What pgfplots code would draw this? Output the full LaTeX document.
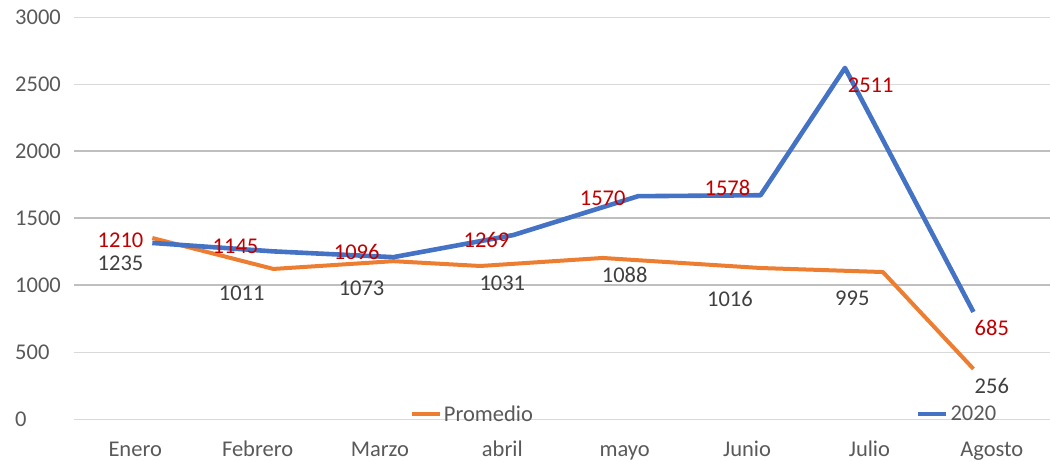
\documentclass[border=0pt]{standalone}
\usepackage{pgfplots}
\pgfplotsset{compat=1.18}
\usepackage{pgfplotstable}
\usepackage{fontspec}
\setmainfont{Carlito}
\definecolor{cblue}{HTML}{4472C4}
\definecolor{corange}{HTML}{ED7D31}
\definecolor{cred}{HTML}{C00000}
\definecolor{cdark}{HTML}{404040}
\definecolor{ctick}{HTML}{595959}
\definecolor{gridlight}{HTML}{D9D9D9}
\definecolor{griddark}{HTML}{BFBFBF}

\pgfplotstableread{
x y
0.14 1316
1.13 1253
2.11 1210
3.09 1375
4.11 1665
5.11 1672
5.80 2622
6.85 801
}\blueline
\pgfplotstableread{
x y
0.14 1353
1.13 1122
2.11 1180
2.82 1144
3.82 1204
5.11 1129
6.11 1099
6.85 376
}\orangeline
\pgfplotstableread{
x y label
-0.12 1338 1210
0.82 1293 1145
1.81 1249 1096
2.87 1338 1269
3.82 1652 1570
4.84 1726 1578
6.01 2495 2511
7.00 681 685
}\redlabels
\pgfplotstableread{
x y label
-0.12 1166 1235
0.87 943 1011
1.85 980 1073
3.00 1017 1031
4.00 1077 1088
4.86 898 1016
5.86 905 995
7.00 249 256
}\graylabels

\begin{document}
\begin{tikzpicture}
\begin{axis}[
  at={(0,0)}, anchor=south west,
  scale only axis,
  width=979pt, height=402pt,
  xmin=-0.5, xmax=7.5,
  ymin=0, ymax=3000,
  axis line style={draw=none},
  major tick length=0pt,
  xtick={0,...,7},
  xticklabels={Enero,Febrero,Marzo,abril,mayo,Junio,Julio,Agosto},
  ytick={0,500,2500,3000},
  extra y ticks={1000,1500,2000},
  extra y tick style={grid style={griddark, line width=2.2pt}},
  ymajorgrids,
  grid style={gridlight, line width=1.5pt},
  tick label style={font=\fontsize{22.5}{26}\selectfont, text=ctick},
  /pgf/number format/assume math mode=true,
  /pgf/number format/1000 sep={},
  yticklabel style={anchor=west, xshift=-59pt, inner sep=0pt},
  xticklabel style={anchor=base, yshift=-37.5pt},
  clip=false,
  legend columns=2,
  legend style={draw=none, fill=none, inner sep=0pt,
    at={(rel axis cs:0.343,0.013)}, anchor=west,
    font=\fontsize{22.5}{26}\selectfont, text=ctick,
    /tikz/every even column/.append style={column sep=381pt}},
  legend image code/.code={\draw[#1] (0pt,0pt) -- (28pt,0pt);},
]
\addplot[corange, line width=4pt, line join=round] table[x=x,y=y] {\orangeline};
\addlegendentry{Promedio}
\addplot[cblue, line width=4.6pt, line join=round] table[x=x,y=y] {\blueline};
\addlegendentry{2020}
\addplot[forget plot, draw=none, mark=none, nodes near coords, point meta=explicit symbolic,
  nodes near coords style={anchor=center, text=cred, font=\fontsize{22.5}{26}\selectfont}]
  table[x=x,y=y,meta=label] {\redlabels};
\addplot[forget plot, draw=none, mark=none, nodes near coords, point meta=explicit symbolic,
  nodes near coords style={anchor=center, text=cdark, font=\fontsize{22.5}{26}\selectfont}]
  table[x=x,y=y,meta=label] {\graylabels};
\end{axis}
\pgfresetboundingbox
\path[use as bounding box] (-74pt,-42.7pt) rectangle (976pt,419.3pt);
\end{tikzpicture}
\end{document}
